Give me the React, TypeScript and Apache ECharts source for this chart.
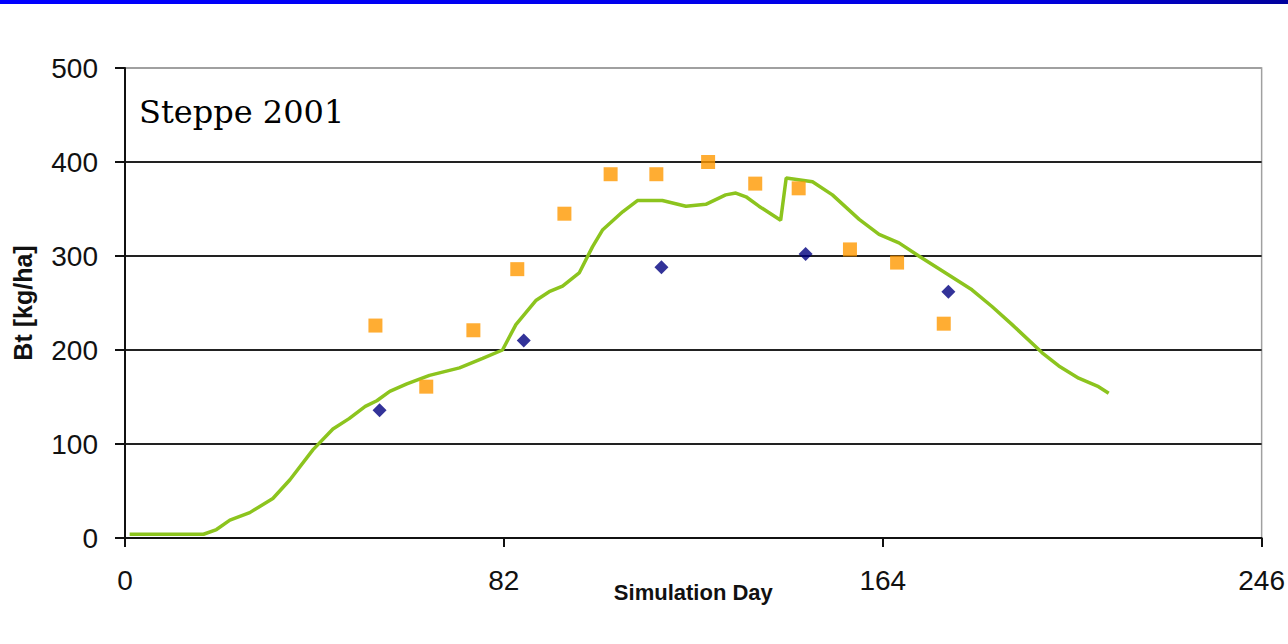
import React, { useEffect, useRef } from "react";
import * as echarts from "echarts";

const xTicks = [0, 82, 164, 246];
const yTicks = [0, 100, 200, 300, 400, 500];

// Simulated biomass (green line): [day, kg/ha]
const simulated: [number, number][] = [
  [1, 4], [17, 4], [19.8, 9], [22.7, 19], [27, 27], [32, 42], [35.7, 62], [40.7, 94],
  [45, 116], [48.5, 127], [52, 140], [54.5, 146], [57.3, 156], [61, 164], [65.9, 173],
  [72.4, 181], [77.4, 191], [81.7, 200], [84.6, 227], [89, 253], [91.8, 262], [94.7, 268],
  [98.3, 282], [101.2, 310], [103.4, 328], [107.7, 347], [110.9, 359], [116.3, 359],
  [121.4, 353], [125.7, 355], [130, 365], [132.2, 367], [134.4, 363], [137.2, 353],
  [141.9, 338], [143.1, 383], [148.8, 379], [153.1, 365], [158.9, 339], [163.2, 323],
  [167.5, 314], [171.8, 300], [177.6, 282], [183.3, 264], [187.7, 246], [192, 227],
  [198.5, 197], [202.1, 183], [206.4, 170], [210.7, 161], [212.9, 154],
];

// Observed (orange squares)
const observedA: [number, number][] = [
  [54.2, 226], [65.2, 161], [75.4, 221], [84.9, 286], [95.1, 345], [105.1, 387],
  [115.0, 387], [126.2, 400], [136.4, 377], [145.8, 372], [156.9, 307], [167.1, 293],
  [177.2, 228],
];

// Observed (navy diamonds)
const observedB: [number, number][] = [
  [55.1, 136], [86.3, 210], [116.1, 288], [147.3, 302], [178.2, 262],
];

const titleText = "Steppe 2001";
const xName = "Simulation Day";
const yName = "Bt [kg/ha]";

export default function App() {
  const ref = useRef<HTMLDivElement>(null);
  useEffect(() => {
    document.body.style.margin = "0";
    const chart = echarts.init(ref.current!, null, { renderer: "svg" });
    chart.setOption({
      animation: false,
      backgroundColor: "#ffffff",
      grid: {
        left: 125,
        right: 25,
        top: 68,
        bottom: 106,
        show: true,
        borderColor: "#a0a0a0",
        borderWidth: 1.5,
      },
      graphic: [
        {
          type: "rect",
          left: 0,
          top: 0,
          shape: { width: 1288, height: 4 },
          style: {
            fill: new echarts.graphic.LinearGradient(0, 0, 1, 0, [
              { offset: 0, color: "#0000ff" },
              { offset: 0.8, color: "#0000e0" },
              { offset: 1, color: "#00009c" },
            ]),
          },
          silent: true,
        },
        {
          type: "text",
          left: 139,
          top: 96,
          style: {
            text: titleText,
            font: "32px 'DejaVu Serif'",
            fill: "#000000",
          },
        },
      ],
      xAxis: {
        type: "value",
        min: xTicks[0],
        max: xTicks[xTicks.length - 1],
        interval: 82,
        name: xName,
        nameLocation: "middle",
        nameGap: 43,
        nameMoveOverlap: false,
        nameTextStyle: {
          fontFamily: "Liberation Sans",
          fontWeight: "bold",
          fontSize: 22,
          color: "#111",
        },
        axisLine: { show: true, lineStyle: { color: "#111", width: 2 } },
        axisTick: { show: true, inside: false, length: 9, lineStyle: { color: "#111", width: 2 } },
        axisLabel: {
          margin: 28,
          fontFamily: "Liberation Sans",
          fontSize: 28,
          color: "#111",
          showMaxLabel: true,
        },
        splitLine: { show: false },
      },
      yAxis: {
        type: "value",
        min: yTicks[0],
        max: yTicks[yTicks.length - 1],
        interval: 100,
        name: yName,
        nameLocation: "middle",
        nameGap: 90,
        nameMoveOverlap: false,
        nameRotate: 90,
        nameTextStyle: {
          fontFamily: "Liberation Sans",
          fontWeight: "bold",
          fontSize: 25,
          color: "#111",
        },
        axisLine: { show: true, lineStyle: { color: "#111", width: 2 } },
        axisTick: { show: true, inside: false, length: 10, lineStyle: { color: "#111", width: 2 } },
        axisLabel: {
          margin: 27,
          fontFamily: "Liberation Sans",
          fontSize: 28,
          color: "#111",
        },
        splitLine: {
          show: true,
          lineStyle: {
            color: ["#222", "#222", "#222", "#222", "#222", "#a0a0a0"],
            width: 2,
          },
        },
      },
      series: [
        {
          type: "line",
          data: simulated,
          showSymbol: false,
          symbol: "none",
          lineStyle: { color: "#8cc41e", width: 3.5 },
          z: 3,
        },
        {
          type: "scatter",
          data: observedA,
          symbol: "rect",
          symbolSize: 14,
          itemStyle: { color: "#ff9900" },
          z: 4,
        },
        {
          type: "scatter",
          data: observedB,
          symbol: "diamond",
          symbolSize: [14, 14],
          itemStyle: { color: "#000080" },
          z: 5,
        },
      ],
    });
    return () => chart.dispose();
  }, []);
  return <div ref={ref} style={{ width: 1288, height: 644 }} />;
}
